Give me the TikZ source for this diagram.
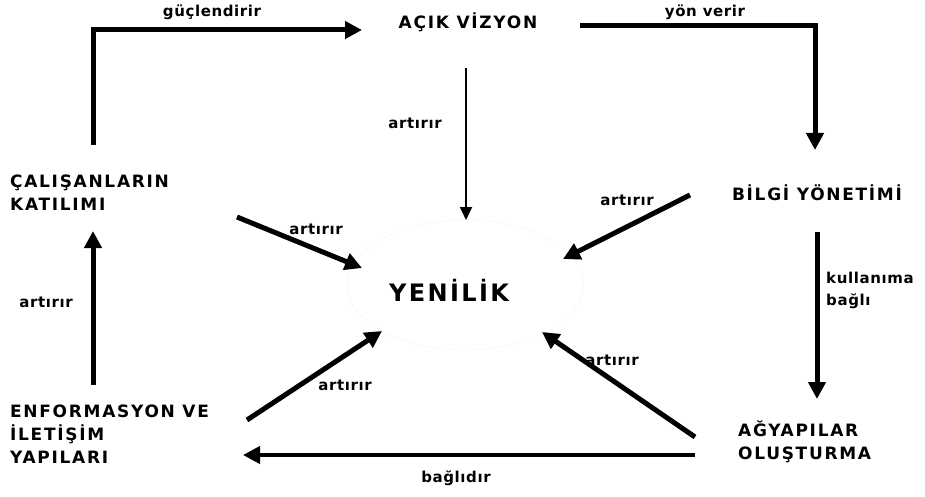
\documentclass[tikz,border=0pt]{standalone}
\usepackage{fontspec}
\setmainfont{DejaVu Sans}
\newfontfamily\nodefont[LetterSpace=10]{DejaVu Sans Bold}
\newfontfamily\lblfont[LetterSpace=4]{DejaVu Sans Bold}
\usetikzlibrary{arrows.meta}
\begin{document}
\begin{tikzpicture}[x=1pt,y=-1pt,
  box/.style={font=\nodefont\fontsize{17}{23}\selectfont, inner sep=0pt, align=left},
  lbl/.style={font=\lblfont\fontsize{15}{22}\selectfont, inner sep=0pt, align=left},
  big/.style={-{Triangle[length=17pt,width=17pt]}, line width=5pt},
  thin/.style={-{Triangle[length=13pt,width=12pt]}, line width=2pt},
]
\useasboundingbox (0,0) rectangle (925,497);
% faint dotted outline round the centre
\draw[gray!18, dotted, line width=0.8pt] (465,285) ellipse [x radius=118pt, y radius=65pt];

% nodes
\node[box] (vis) at (468,22) {AÇIK VİZYON};
\node[box] (bil) at (817,193) {BİLGİ YÖNETİMİ};
\node[box, anchor=north west] (cal) at (10,175) {ÇALIŞANLARIN\\KATILIMI};
\node[box, anchor=north west] (enf) at (10,405) {ENFORMASYON VE\\İLETİŞİM\\YAPILARI};
\node[box, anchor=north west] (agy) at (738,421) {AĞYAPILAR\\OLUŞTURMA};
\node[font=\nodefont\fontsize{24}{28}\selectfont, inner sep=0pt] (yen) at (449,290) {YENİLİK};

% connector end points
\coordinate (a1s) at (93,145);  \coordinate (a1c) at (93,30);  \coordinate (a1e) at (362,30);
\coordinate (a2s) at (580,26);  \coordinate (a2c) at (815,26); \coordinate (a2e) at (815,150);
\coordinate (a3s) at (466,68);  \coordinate (a3e) at (466,220);
\coordinate (a4s) at (690,195); \coordinate (a4e) at (563,259);
\coordinate (a5s) at (237,217); \coordinate (a5e) at (362,268);
\coordinate (a6s) at (93,385);  \coordinate (a6e) at (93,231);
\coordinate (a7s) at (817,232); \coordinate (a7e) at (817,399);
\coordinate (a8s) at (247,420); \coordinate (a8e) at (382,331);
\coordinate (a9s) at (695,437); \coordinate (a9e) at (542,332);
\coordinate (a10s) at (695,455); \coordinate (a10e) at (243,455);

% connectors
\draw[big] (a1s) -- (a1c) -- (a1e);
\draw[big] (a2s) -- (a2c) -- (a2e);
\draw[thin] (a3s) -- (a3e);
\draw[big] (a4s) -- (a4e);
\draw[big] (a5s) -- (a5e);
\draw[big] (a6s) -- (a6e);
\draw[big] (a7s) -- (a7e);
\draw[big] (a8s) -- (a8e);
\draw[big] (a9s) -- (a9e);
\draw[line width=4pt, -{Triangle[length=17pt,width=17pt]}] (a10s) -- (a10e);

% labels
\node[lbl] (l1) at (212,12) {güçlendirir};
\node[lbl] (l2) at (705,12) {yön verir};
\node[lbl] (l3) at (415,123) {artırır};
\node[lbl] (l4) at (627,200) {artırır};
\node[lbl] (l5) at (316,229) {artırır};
\node[lbl] (l6) at (46,302) {artırır};
\node[lbl, anchor=north west] (l7) at (826,272) {kullanıma\\bağlı};
\node[lbl] (l8) at (345,385) {artırır};
\node[lbl] (l9) at (612,360) {artırır};
\node[lbl] (l10) at (456,478) {bağlıdır};
\end{tikzpicture}
\end{document}
